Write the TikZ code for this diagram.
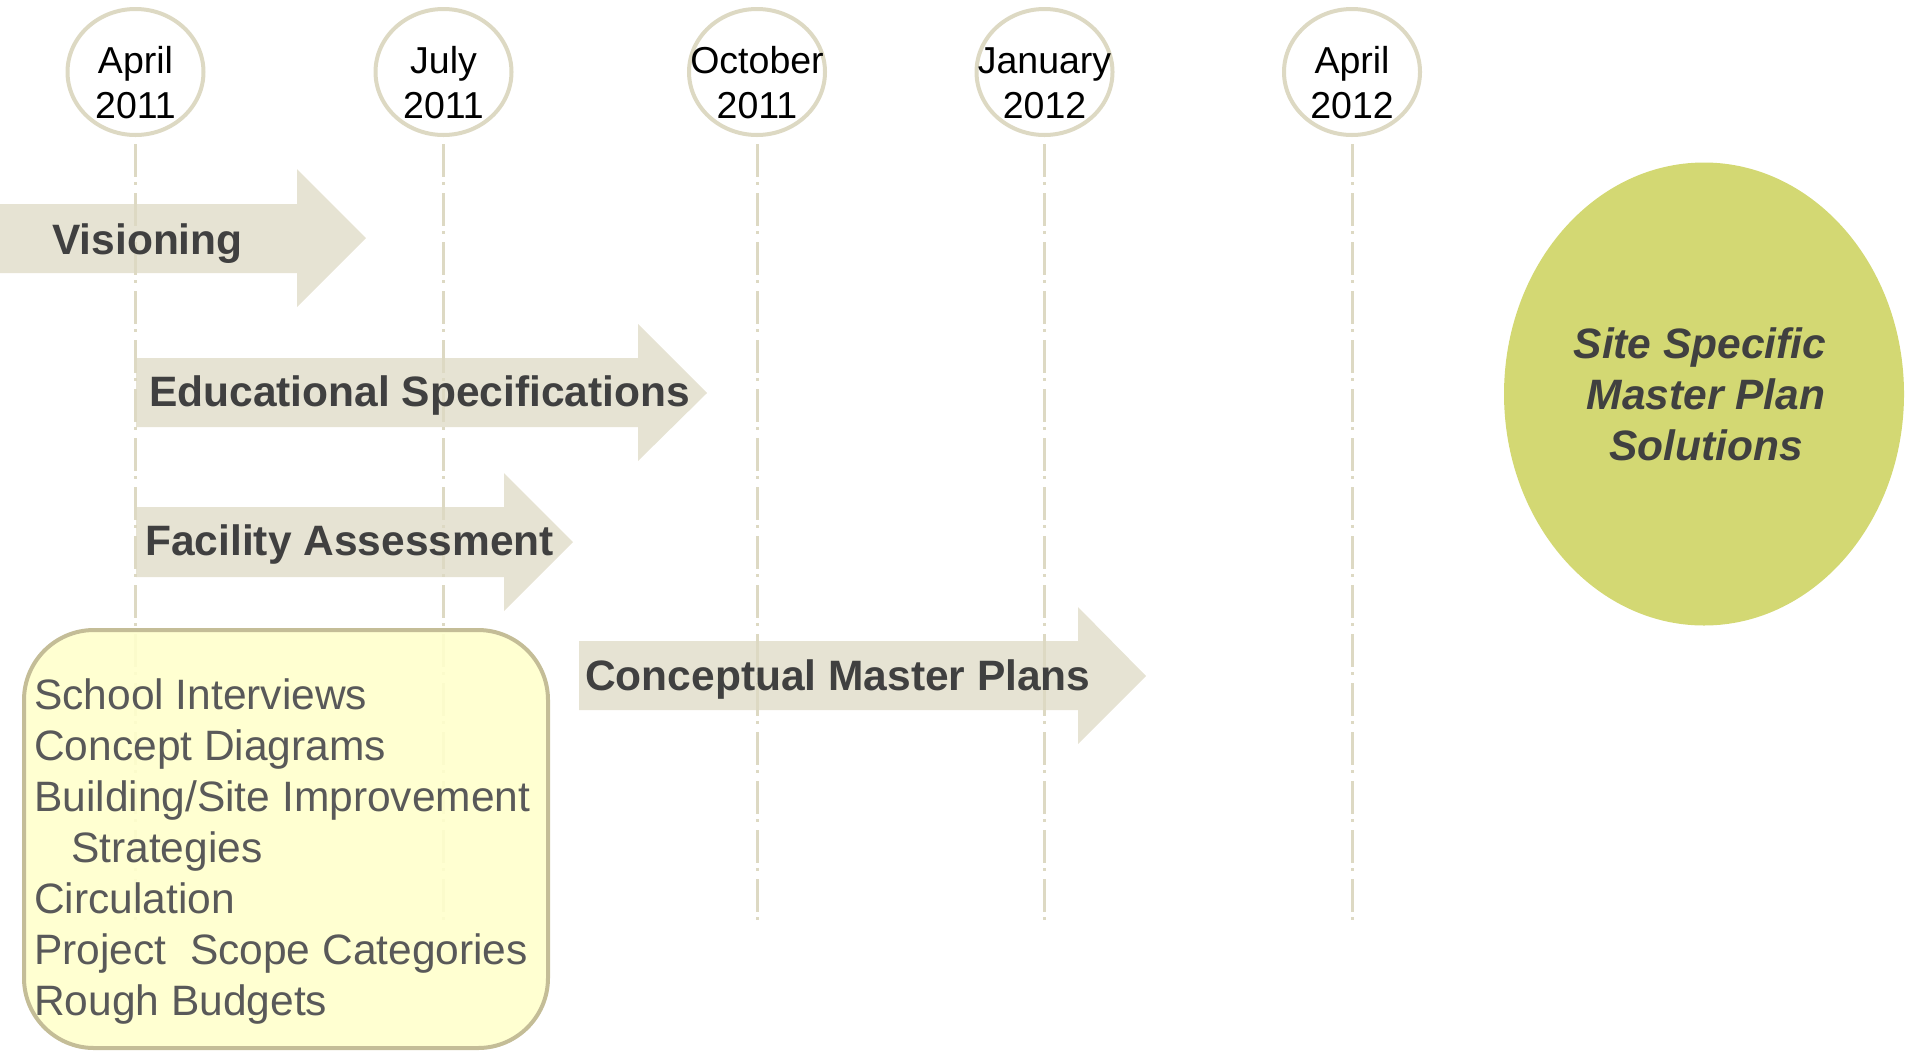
\documentclass[tikz,border=0pt]{standalone}
\usepackage{fontspec}
\setmainfont{Liberation Sans}
\usetikzlibrary{shapes.geometric}
\definecolor{linebeige}{HTML}{DDD9C3}
\definecolor{arrowfill}{HTML}{E6E3D3}
\definecolor{boxfill}{HTML}{FFFFCC}
\definecolor{boxline}{HTML}{C4BD97}
\definecolor{greenfill}{HTML}{D3D873}
\definecolor{darktext}{HTML}{404040}
\definecolor{graytext}{HTML}{595959}
\begin{document}
\begin{tikzpicture}[x=1pt,y=-1pt,
  datecirc/.style={ellipse, draw=linebeige, line width=4pt, fill=white, minimum width=136pt, minimum height=126pt, inner sep=0pt},
  datetext/.style={font=\fontsize{37.5}{45}\selectfont, text=black, anchor=base, inner sep=0pt},
  phasetext/.style={font=\fontsize{42.5}{51}\selectfont\bfseries, text=darktext, anchor=base west, inner sep=0pt},
  listtext/.style={font=\fontsize{42.5}{51}\selectfont, text=graytext, anchor=base west, inner sep=0pt},
  goaltext/.style={font=\fontsize{42.5}{51}\selectfont\bfseries\itshape, text=darktext, anchor=base, inner sep=0pt},
  arrowshape/.style={fill=arrowfill, draw=none},
  timeline/.style={draw=linebeige, line width=3pt, dash pattern=on 33pt off 5pt on 3pt off 8pt}
]
\useasboundingbox (0,0) rectangle (1905,1053);

% phase arrows
\path[arrowshape] (0,204) -- (297,204) -- (297,169) -- (366,238) -- (297,307) -- (297,273) -- (0,273) -- cycle;
\path[arrowshape] (136,358) -- (638,358) -- (638,324) -- (707,393) -- (638,461) -- (638,427) -- (136,427) -- cycle;
\path[arrowshape] (136,507) -- (504,507) -- (504,473) -- (573,542) -- (504,611) -- (504,577) -- (136,577) -- cycle;
\path[arrowshape] (579,641) -- (1078,641) -- (1078,607) -- (1146,676) -- (1078,744) -- (1078,710) -- (579,710) -- cycle;

% date circles
\node[datecirc] (d1) at (135.5,72) {};
\node[datecirc] (d2) at (443.5,72) {};
\node[datecirc] (d3) at (757,72) {};
\node[datecirc] (d4) at (1044.5,72) {};
\node[datecirc] (d5) at (1352,72) {};
\node[datetext] (m1) at (135.5,73) {April};
\node[datetext] (y1) at (135.5,118) {2011};
\node[datetext] (m2) at (443.5,73) {July};
\node[datetext] (y2) at (443.5,118) {2011};
\node[datetext] (m3) at (757,73) {October};
\node[datetext] (y3) at (757,118) {2011};
\node[datetext] (m4) at (1044.5,73) {January};
\node[datetext] (y4) at (1044.5,118) {2012};
\node[datetext] (m5) at (1352,73) {April};
\node[datetext] (y5) at (1352,118) {2012};

% timelines
\coordinate (s1) at (135.5,144); \coordinate (e1) at (135.5,920);
\coordinate (s2) at (443.5,144); \coordinate (e2) at (443.5,920);
\coordinate (s3) at (757,144);   \coordinate (e3) at (757,920);
\coordinate (s4) at (1044.5,144); \coordinate (e4) at (1044.5,920);
\coordinate (s5) at (1352,144);  \coordinate (e5) at (1352,920);
\draw[timeline] (s1) -- (e1);
\draw[timeline] (s2) -- (e2);
\draw[timeline] (s3) -- (e3);
\draw[timeline] (s4) -- (e4);
\draw[timeline] (s5) -- (e5);

% phase labels
\node[phasetext] (vis) at (52,254) {Visioning};
\node[phasetext] (edu) at (149,406) {Educational Specifications};
\node[phasetext] (fac) at (145,555) {Facility Assessment};
\node[phasetext] (cmp) at (585,690) {Conceptual Master Plans};

% task box
\node[draw=boxline, line width=4pt, fill=boxfill, fill opacity=0.9, rounded corners=70pt,
      minimum width=524pt, minimum height=418pt, inner sep=0pt] (tasks) at (286,839) {};
\node[listtext] (t1) at (34,709) {School Interviews};
\node[listtext] (t2) at (34,760) {Concept Diagrams};
\node[listtext] (t3) at (34,811) {Building/Site Improvement};
\node[listtext] (t4) at (71,862) {Strategies};
\node[listtext] (t5) at (34,913) {Circulation};
\node[listtext] (t6) at (34,964) {Project~ Scope Categories};
\node[listtext] (t7) at (34,1015) {Rough Budgets};

% goal ellipse
\node[ellipse, fill=greenfill, minimum width=400pt, minimum height=463pt, inner sep=0pt] (goal) at (1704,394) {};
\node[goaltext] (g1) at (1700,358) {Site Specific};
\node[goaltext] (g2) at (1706,409) {Master Plan};
\node[goaltext] (g3) at (1706,460) {Solutions};
\end{tikzpicture}
\end{document}
